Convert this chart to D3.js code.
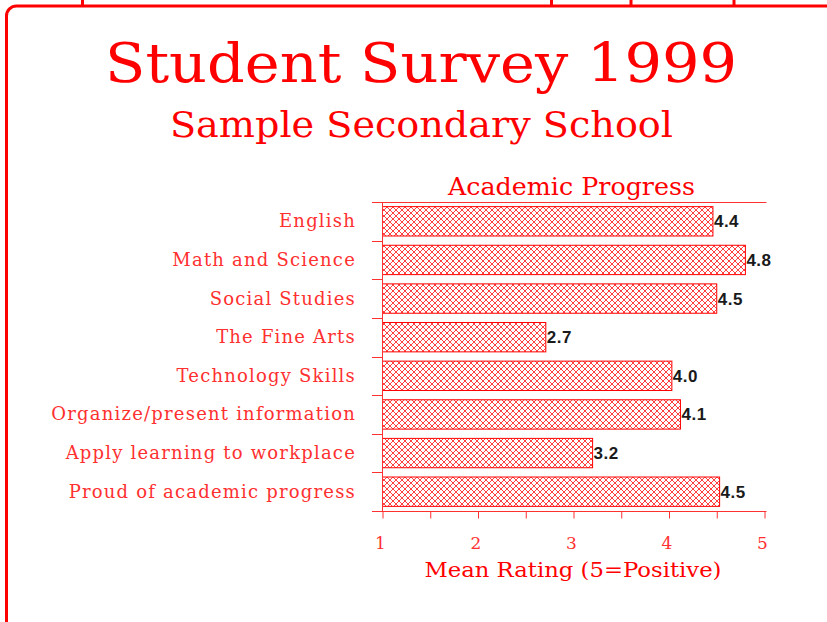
<!DOCTYPE html>
<html>
<head>
<meta charset="utf-8">
<title>Student Survey 1999</title>
<script src="https://cdn.jsdelivr.net/npm/d3@7"></script>
<style>
  body { margin: 0; background: white; }
  svg { display: block; }
</style>
</head>
<body>
<div id="chart"></div>
<script>
// chart data
var categories = ["English", "Math and Science", "Social Studies", "The Fine Arts",
  "Technology Skills", "Organize/present information", "Apply learning to workplace",
  "Proud of academic progress"];
var values = [4.46, 4.8, 4.5, 2.71, 4.03, 4.12, 3.2, 4.53];
var valueLabels = ["4.4", "4.8", "4.5", "2.7", "4.0", "4.1", "3.2", "4.5"];
var tickValues = [1, 1.5, 2, 2.5, 3, 3.5, 4, 4.5, 5];
var tickLabels = ["1", "2", "3", "4", "5"];

var red = "#ff0000";
var softRed = "#ff3030";
var serif = "'DejaVu Serif', 'Liberation Serif', serif";

var svg = d3.select("#chart").append("svg")
  .attr("width", 827)
  .attr("height", 622);

// hatch pattern for bars
var defs = svg.append("defs");
var pat = defs.append("pattern")
  .attr("id", "hatch")
  .attr("patternUnits", "userSpaceOnUse")
  .attr("width", 6)
  .attr("height", 6);
pat.append("rect").attr("width", 6).attr("height", 6).attr("fill", "white");
pat.append("path")
  .attr("d", "M-1,1 L1,-1 M0,6 L6,0 M5,7 L7,5 M-1,5 L1,7 M0,0 L6,6 M5,-1 L7,1")
  .attr("stroke", red)
  .attr("stroke-width", 1)
  .attr("opacity", 0.75);

// frame
svg.append("path")
  .attr("d", "M6.5,630 L6.5,16 A10,10 0 0 1 16.5,6 L830,6")
  .attr("fill", "none")
  .attr("stroke", red)
  .attr("stroke-width", 3);

// bits of cut-off text above the frame
[82.5, 551.5, 631, 734].forEach(function(x) {
  svg.append("rect")
    .attr("x", x - 1.5).attr("y", 0)
    .attr("width", 3).attr("height", 5)
    .attr("fill", red);
});

// titles
svg.append("text")
  .attr("x", 421).attr("y", 82)
  .attr("text-anchor", "middle")
  .attr("font-family", serif)
  .attr("font-size", 55)
  .attr("textLength", 632)
  .attr("lengthAdjust", "spacingAndGlyphs")
  .attr("fill", red)
  .text("Student Survey 1999");

svg.append("text")
  .attr("x", 421.5).attr("y", 137)
  .attr("text-anchor", "middle")
  .attr("font-family", serif)
  .attr("font-size", 35)
  .attr("textLength", 503)
  .attr("lengthAdjust", "spacingAndGlyphs")
  .attr("fill", red)
  .text("Sample Secondary School");

// scales
var x = d3.scaleLinear().domain([1, 5]).range([382.5, 764.5]);
var y = d3.scaleBand().domain(categories).range([202, 511])
  .paddingInner(0.24).paddingOuter(0.12);

var g = svg.append("g");

// chart title
g.append("text")
  .attr("x", 571.5).attr("y", 195)
  .attr("text-anchor", "middle")
  .attr("font-family", serif)
  .attr("font-size", 24)
  .attr("textLength", 247)
  .attr("lengthAdjust", "spacingAndGlyphs")
  .attr("fill", red)
  .text("Academic Progress");

// top rule
g.append("line")
  .attr("x1", x(1) - 10.5).attr("x2", x(5) + 2)
  .attr("y1", y.range()[0] + 0.5).attr("y2", y.range()[0] + 0.5)
  .attr("stroke", softRed).attr("stroke-width", 1);

// bars
g.selectAll("rect.bar")
  .data(values)
  .join("rect")
  .attr("class", "bar")
  .attr("x", x(1))
  .attr("y", function(d, i) { return y(categories[i]); })
  .attr("width", function(d) { return x(d) - x(1); })
  .attr("height", y.bandwidth())
  .attr("fill", "url(#hatch)")
  .attr("stroke", red)
  .attr("stroke-width", 1);

// value labels
g.selectAll("text.val")
  .data(values)
  .join("text")
  .attr("class", "val")
  .attr("x", function(d) { return x(d) + 1; })
  .attr("y", function(d, i) { return y(categories[i]) + y.bandwidth() / 2 + 6; })
  .attr("font-family", "'Liberation Sans', Arial, sans-serif")
  .attr("font-weight", "bold")
  .attr("font-size", 17)
  .attr("letter-spacing", 0.5)
  .attr("fill", "#1a1a1a")
  .text(function(d, i) { return valueLabels[i]; });

// y axis with ticks on band edges
var yAxis = g.append("g");
yAxis.append("line")
  .attr("x1", x(1)).attr("x2", x(1))
  .attr("y1", y.range()[0]).attr("y2", y.range()[1])
  .attr("stroke", softRed);
var step = y.step();
d3.range(1, categories.length).forEach(function(i) {
  var yy = Math.round(y.range()[0] + i * step) + 0.5;
  yAxis.append("line")
    .attr("x1", x(1) - 10.5).attr("x2", x(1))
    .attr("y1", yy).attr("y2", yy)
    .attr("stroke", softRed);
});

// category labels
g.selectAll("text.cat")
  .data(categories)
  .join("text")
  .attr("class", "cat")
  .attr("x", 356)
  .attr("y", function(d) { return y(d) + y.bandwidth() / 2 + 6; })
  .attr("text-anchor", "end")
  .attr("font-family", serif)
  .attr("font-size", 18)
  .attr("letter-spacing", 1.2)
  .attr("fill", softRed)
  .text(function(d) { return d; });

// x axis
var xAxis = g.append("g")
  .attr("transform", "translate(0,511.5)")
  .call(d3.axisBottom(x).tickValues(tickValues).tickSize(7).tickFormat(""));
xAxis.select(".domain")
  .attr("d", "M" + (x(1) - 10.5) + ",0H" + (x(5) + 2))
  .attr("stroke", softRed);
xAxis.selectAll(".tick line").attr("stroke", softRed);

g.selectAll("text.tick")
  .data(tickLabels)
  .join("text")
  .attr("class", "tick")
  .attr("x", function(d) { return x(+d) - 2; })
  .attr("y", 549)
  .attr("text-anchor", "middle")
  .attr("font-family", serif)
  .attr("font-size", 17)
  .attr("fill", softRed)
  .text(function(d) { return d; });

g.append("text")
  .attr("x", 573).attr("y", 577)
  .attr("text-anchor", "middle")
  .attr("font-family", serif)
  .attr("font-size", 20)
  .attr("textLength", 297)
  .attr("lengthAdjust", "spacingAndGlyphs")
  .attr("fill", red)
  .text("Mean Rating (5=Positive)");
</script>
</body>
</html>
